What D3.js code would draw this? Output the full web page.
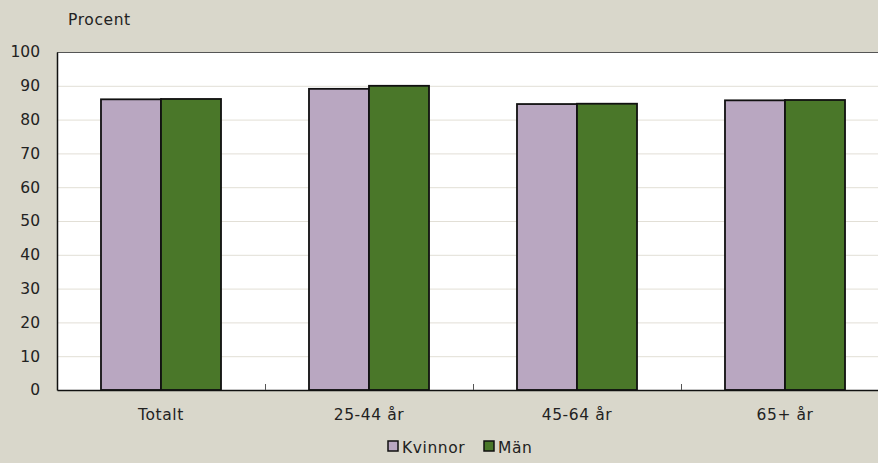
<!DOCTYPE html>
<html><head><meta charset="utf-8">
<script src="https://cdn.jsdelivr.net/npm/d3@7"></script>
<style>
html,body{margin:0;padding:0;background:#D9D7CB;}
svg{display:block;}
text{font-family:"DejaVu Sans",sans-serif;fill:#222;}
</style></head>
<body>
<svg id="c" width="878" height="463"></svg>
<script>
const categories = ["Totalt", "25-44 år", "45-64 år", "65+ år"];
const seriesNames = ["Kvinnor", "Män"];
const kvinnor = [86.0, 89.1, 84.6, 85.7];
const man = [86.1, 90.0, 84.7, 85.8];
const yTicks = [0,10,20,30,40,50,60,70,80,90,100];
const colors = ["#B9A7C1", "#4A7729"];

const FONT = "'DejaVu Sans',sans-serif";
const FS = "15.5px";
const LS = "0.6px";
const svg = d3.select("#c");
const m = {left:57, top:52, bottom:390, right:889};
const x = d3.scaleBand().domain(categories).range([m.left, m.right]).paddingInner(0).paddingOuter(0);
const y = d3.scaleLinear().domain([0,100]).range([m.bottom, m.top]);
const xs = d3.scaleBand().domain(seriesNames).range([0, x.bandwidth()]).paddingInner(0).paddingOuter(0.733);

svg.append("rect").attr("x", m.left).attr("y", m.top).attr("width", m.right-m.left).attr("height", m.bottom-m.top).attr("fill","#fff");

// gridlines
svg.append("g").selectAll("line").data(yTicks.filter(d=>d>0 && d<100)).join("line")
  .attr("x1", m.left).attr("x2", m.right).attr("y1", d=>y(d)+0.5).attr("y2", d=>y(d)+0.5)
  .attr("stroke","#E2DFD6").attr("stroke-width",1);

// bars
const data = categories.map((c,i)=>({c, vals:[kvinnor[i], man[i]]}));
const g = svg.append("g").selectAll("g").data(data).join("g").attr("transform", d=>`translate(${x(d.c)},0)`);
g.selectAll("rect").data(d=>d.vals.map((v,j)=>({s:seriesNames[j], v, j}))).join("rect")
  .attr("x", d=>xs(d.s)).attr("width", xs.bandwidth())
  .attr("y", d=>y(d.v)).attr("height", d=>y(0)-y(d.v))
  .attr("fill", d=>colors[d.j]).attr("stroke","#111").attr("stroke-width",1.8);

// frame top
svg.append("line").attr("x1", m.left).attr("x2", m.right).attr("y1", m.top+0.5).attr("y2", m.top+0.5).attr("stroke","#555").attr("stroke-width",1.2);

// y axis
const ya = d3.axisLeft(y).tickValues(yTicks).tickSize(0).tickPadding(17);
const yg = svg.append("g").attr("transform", `translate(${m.left},0)`).call(ya);
yg.select(".domain").attr("stroke","#111").attr("stroke-width",1.5);
yg.selectAll("text").style("font-size",FS).attr("fill","#222").style("font-family",FONT);

// x axis
const xa = d3.axisBottom(x).tickSize(0).tickPadding(19);
const xg = svg.append("g").attr("transform", `translate(0,${m.bottom})`).call(xa);
xg.select(".domain").attr("stroke","#111").attr("stroke-width",1.5);
xg.selectAll("text").style("font-size",FS).style("letter-spacing",LS).attr("fill","#222").style("font-family",FONT);
// category separator ticks
svg.append("g").selectAll("line").data(categories.slice(1)).join("line")
  .attr("x1", d=>x(d)+0.5).attr("x2", d=>x(d)+0.5).attr("y1", m.bottom).attr("y2", m.bottom-6)
  .attr("stroke","#555").attr("stroke-width",1);

svg.append("text").attr("x", 68).attr("y", 25).style("font-size",FS).style("letter-spacing",LS).text("Procent");

// legend
const leg = svg.append("g").attr("transform","translate(388,447)");
const items = [{n:seriesNames[0], c:colors[0], x:0},{n:seriesNames[1], c:colors[1], x:96}];
const li = leg.selectAll("g").data(items).join("g").attr("transform", d=>`translate(${d.x},0)`);
li.append("rect").attr("x",0).attr("y",-6).attr("width",10).attr("height",10).attr("fill",d=>d.c).attr("stroke","#111").attr("stroke-width",1.5);
li.append("text").attr("x",14).attr("y",5.5).style("font-size",FS).style("letter-spacing",LS).text(d=>d.n);
</script>
</body></html>
